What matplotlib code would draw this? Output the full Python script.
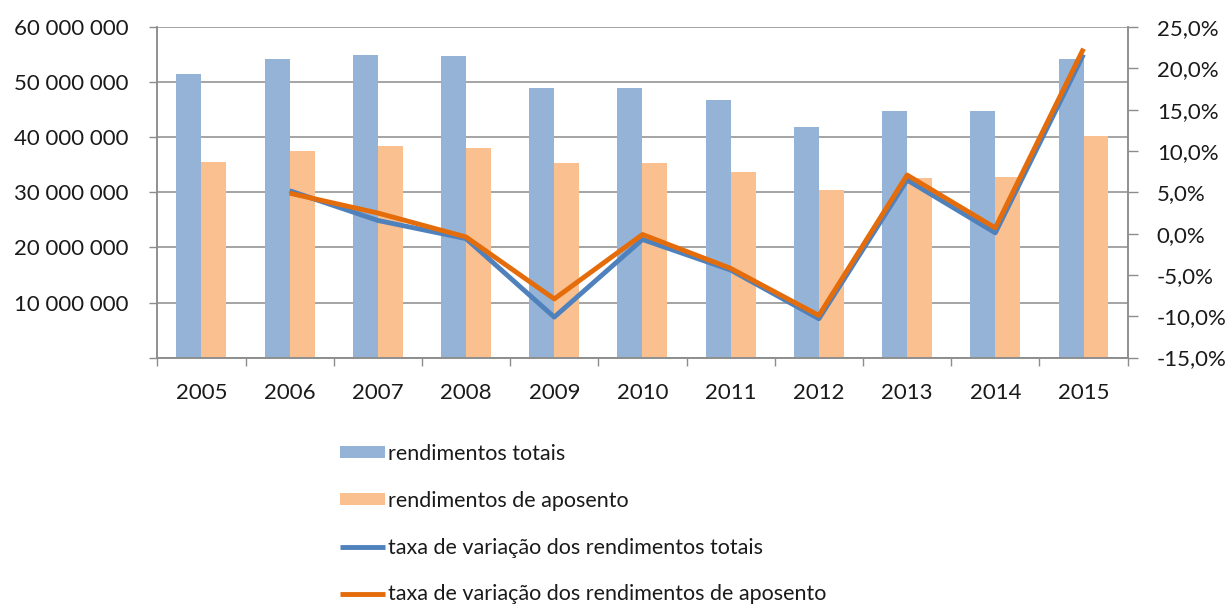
import numpy as np
import matplotlib
matplotlib.use("Agg")
import matplotlib.pyplot as plt
from matplotlib.ticker import FuncFormatter, FixedLocator

# data
years = ["2005", "2006", "2007", "2008", "2009", "2010", "2011", "2012", "2013", "2014", "2015"]
rend_totais = [51.5e6, 54.2e6, 54.9e6, 54.7e6, 49.0e6, 48.9e6, 46.7e6, 41.8e6, 44.7e6, 44.7e6, 54.2e6]
rend_aposento = [35.6e6, 37.5e6, 38.4e6, 38.1e6, 35.3e6, 35.3e6, 33.7e6, 30.4e6, 32.6e6, 32.8e6, 40.2e6]
taxa_totais = [np.nan, 5.2, 1.6, -0.6, -10.1, -0.7, -4.4, -10.3, 6.5, 0.1, 21.7]
taxa_aposento = [np.nan, 4.9, 2.5, -0.4, -7.9, -0.1, -4.2, -9.9, 7.1, 0.7, 22.4]

labels = ["rendimentos totais", "rendimentos de aposento",
          "taxa de variação dos rendimentos totais",
          "taxa de variação dos rendimentos de aposento"]

c_bar1, c_bar2 = "#95B3D7", "#FAC090"
c_line1, c_line2 = "#4F81BD", "#E46C0A"
grey = "#8C8C8C"
txt = "#1A1A1A"
fs = 16

plt.rcParams["font.family"] = ["Lato", "DejaVu Sans"]
plt.rcParams["text.color"] = txt

fig = plt.figure(figsize=(12.29, 6.04), dpi=100)
ax = fig.add_axes([0.128, 0.408, 0.7895, 0.547])
ax2 = ax.twinx()

x = np.arange(len(years))
w = 0.283
b1 = ax.bar(x - w / 2, rend_totais, w, color=c_bar1, label=labels[0], zorder=2)
b2 = ax.bar(x + w / 2, rend_aposento, w, color=c_bar2, label=labels[1], zorder=2)

l1, = ax2.plot(x, taxa_totais, color=c_line1, lw=3.5, label=labels[2], solid_capstyle="butt")
l2, = ax2.plot(x, taxa_aposento, color=c_line2, lw=3.5, label=labels[3], solid_capstyle="butt")

ax.set_xlim(-0.5, len(years) - 0.5)
ax.set_ylim(0, 60e6)
ax.set_yticks(np.arange(0, 60e6 + 1, 10e6))
ax.yaxis.set_major_formatter(FuncFormatter(
    lambda v, p: "" if v == 0 else f"{int(v):,}".replace(",", " ")))
ax.grid(axis="y", color=grey, lw=1.1, zorder=0)
ax.set_axisbelow(True)

ax.set_xticks(x)
ax.set_xticklabels(years)
ax.xaxis.set_minor_locator(FixedLocator(np.arange(-0.5, len(years), 1.0)))
ax.tick_params(axis="x", which="major", length=0, pad=18, labelsize=fs, labelcolor=txt)
ax.tick_params(axis="x", which="minor", length=6, color=grey, width=1)
ax.tick_params(axis="y", length=6, color=grey, width=1, pad=14.5, labelsize=fs, labelcolor=txt)

ax2.set_ylim(-15, 25)
ax2.set_yticks(np.arange(-15, 26, 5))
ax2.yaxis.set_major_formatter(FuncFormatter(lambda v, p: f"{v:.1f}%".replace(".", ",")))
ax2.tick_params(axis="y", length=7, color=grey, width=1, pad=14, labelsize=fs, labelcolor=txt)

for a in (ax, ax2):
    a.spines["top"].set_visible(False)
    for s in ("left", "right", "bottom"):
        a.spines[s].set_color(grey)
        a.spines[s].set_linewidth(1.1)

fig.legend([b1, b2, l1, l2], labels, loc="upper left",
           bbox_to_anchor=(0.2766, 0.2654), frameon=False, fontsize=15.5,
           handlelength=2.1, handleheight=0.45, handletextpad=0.15,
           labelspacing=1.25, borderaxespad=0, borderpad=0)

fig.savefig("out.png", dpi=100)
